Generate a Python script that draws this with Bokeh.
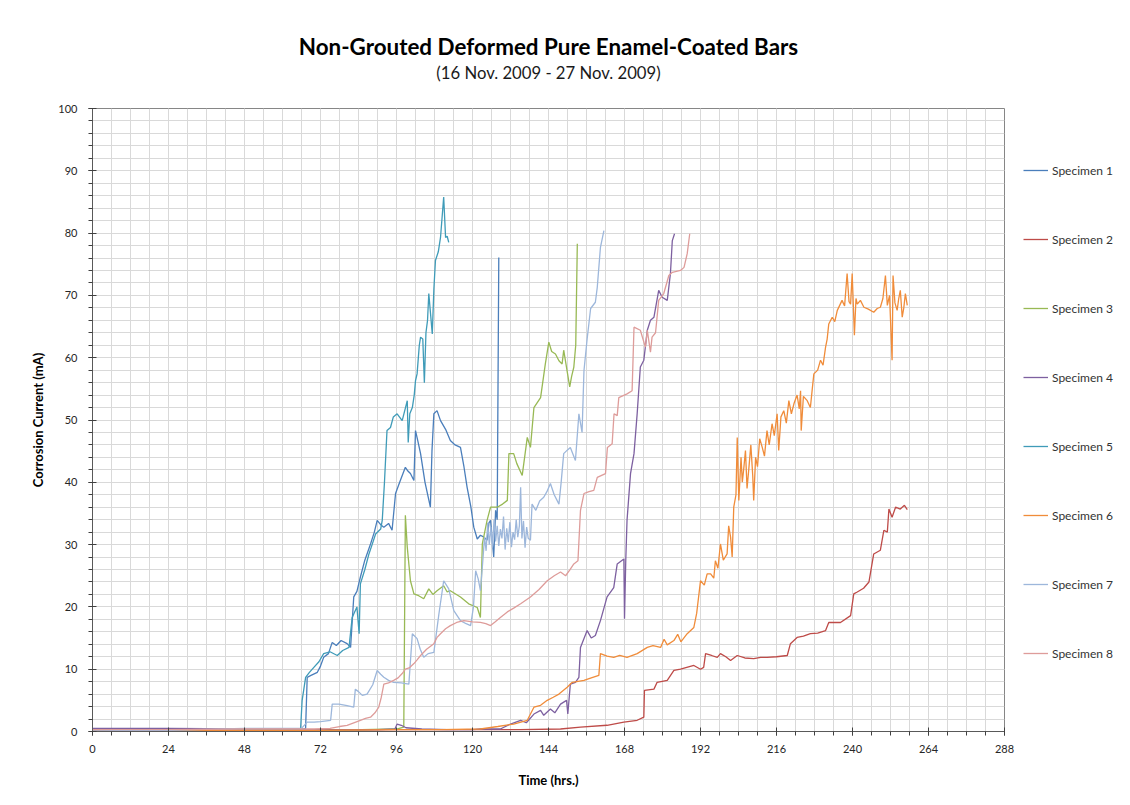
from bokeh.plotting import figure
from bokeh.models import Legend, LegendItem, SingleIntervalTicker, Title, Range1d
from bokeh.embed import file_html
from bokeh.resources import INLINE

FONT = "Lato"

# ---- data: (hours, corrosion current mA) ----
specimen_1 = [(0,0.2),(12,0.2),(24,0.3),(36,0.3),(48,0.3),(60,0.3),(66.5,0.4),(67.3,0.5),(67.8,8.7),(69,9.0),(71,9.5),(72,10.5),(73,11.9),(74.5,12.5),(75.7,14.3),(77,13.8),(78.5,14.6),(80.4,14.1),(81.5,13.5),(82.5,21.6),(83.5,22.5),(84.6,24.8),(86,27.5),(87.8,30.1),(89,32),(89.9,33.9),(91,33.2),(92,32.8),(93.5,33.4),(94.6,32.3),(95.7,38.2),(97,40),(98.8,42.4),(99.6,41.8),(100.4,41.4),(101.5,40.3),(102,48.3),(102.8,46.5),(103.6,44.6),(105,40),(106.7,36),(107.2,45),(107.8,51),(108.8,51.5),(109.9,49.9),(111.5,48.5),(113,46.7),(114.5,46),(116.2,45.6),(117.3,42.5),(118.3,39.2),(119.5,36),(120.4,32.8),(121.5,30.9),(122.5,31.5),(123.6,31.2),(124.6,30.7),(125.2,33.5),(125.7,33.9),(126.2,31),(126.7,28),(127.3,35.5),(127.8,34),(128.3,76.1)]

specimen_2 = [(0,0.1),(24,0.1),(48,0.2),(72,0.2),(96,0.3),(120,0.3),(135,0.3),(147.8,0.4),(154.1,0.7),(162.5,1.0),(167.8,1.5),(172,1.8),(174.1,2.3),(174.3,6.6),(177.3,6.8),(178.3,7.9),(181.5,8.2),(183.6,9.8),(185.7,10),(189.9,10.6),(192,10),(193,10.3),(193.6,12.5),(195.5,12.2),(197.3,11.9),(198.3,12.5),(200,12),(201.5,11.4),(203.6,12.2),(206,11.8),(208.8,11.7),(211,11.9),(213,11.9),(216,12),(219.4,12.2),(220.4,14.1),(222.5,15.1),(224.5,15.3),(226.7,15.7),(229,15.8),(231.5,16.2),(232.5,17.5),(236.2,17.5),(239.4,18.6),(240.4,22.1),(241.5,22.4),(243.5,23),(245.2,24),(246.7,28.5),(248.8,29.1),(249.9,32.3),(251,32),(251.5,35.7),(252.5,34.4),(253.6,36),(255.1,35.7),(256.4,36.3),(257.3,35.6)]

specimen_3 = [(0,0.1),(24,0.1),(48,0.2),(72,0.2),(85,0.3),(96,0.4),(98.3,0.7),(98.8,34.7),(99.4,29.6),(100.4,24.2),(101.5,22.1),(103,21.8),(104.6,21.3),(106.2,22.9),(107.5,22),(108.8,22.6),(110.9,23.4),(112,22.4),(113,22.6),(116.2,21.6),(118.8,20.5),(121.5,19.9),(122.5,18.3),(123.1,30.1),(124.6,33.9),(125.7,36),(127.8,36),(129.5,36.5),(131,37.1),(131.5,44.6),(133,44.6),(134,43),(135.7,41.1),(137.3,47.2),(138.3,45.6),(139.4,52),(141.5,53.6),(143,59),(144.1,62.5),(145,61),(146.2,60.6),(147.3,59.5),(148.3,59),(148.8,61.2),(150,57.5),(150.7,55.3),(151.3,57),(152,58.5),(152.6,62),(153.1,78.3)]

specimen_4 = [(0,0.5),(24,0.5),(48,0.4),(60,0.3),(72,0.3),(90,0.3),(95.5,0.4),(96.2,1.2),(97.5,1.0),(99,0.6),(104,0.4),(112,0.3),(120,0.3),(122.5,0.4),(128.8,0.4),(132,1.2),(135.2,1.8),(137,1.4),(139.4,2.8),(141.5,3.4),(142.5,2.6),(144.6,3.6),(146,3.0),(147.8,4.4),(149.7,5),(150.1,2.8),(150.9,7.6),(152.5,7.9),(153.6,8.7),(154.1,13.5),(156.2,16.2),(157.5,15),(158.8,15.4),(160.4,17.8),(162.5,21.6),(164.6,23.1),(165.7,26.9),(167.8,27.7),(168,18.1),(168.4,27.5),(168.8,33.9),(169.9,41.4),(171,44.6),(172,51),(173,58.5),(174.1,59.6),(175.2,64.4),(176.2,66),(177.3,66.5),(178.8,70.8),(179.9,69.7),(181.5,69.2),(182.5,73.5),(183.1,78.8),(183.8,79.9)]

specimen_5 = [(0,0.2),(24,0.2),(48,0.3),(60,0.3),(65.7,0.3),(66.2,5),(67.3,8.7),(68.5,9.5),(69.9,10.3),(71.5,11.2),(73,12.5),(75,12.8),(77.3,12.2),(79,13),(81,13.5),(82,18.3),(83.5,20),(84.2,15.7),(84.6,23.7),(86,26),(87.3,28.5),(88.3,30),(89.4,31.7),(91,32.5),(91.5,33.9),(92.2,40),(93,48.3),(94.1,48.8),(95,50.5),(96.2,51),(97.8,49.9),(98.6,51.5),(99.4,53.1),(99.7,46.4),(100.2,51),(101,52),(101.6,54),(102,56.3),(102.5,57.4),(103.2,62),(103.6,63.3),(104.3,63),(104.8,56),(105.3,64),(105.8,66),(106.2,70.3),(107.3,63.8),(107.8,71),(108.3,75.6),(109.2,77),(109.9,79.3),(110.9,85.8),(111.5,79.3),(112,79.5),(112.5,78.5)]

specimen_6 = [(0,0.1),(24,0.1),(48,0.2),(72,0.2),(96,0.3),(110,0.3),(122.5,0.4),(128,0.8),(133,1.2),(137.3,1.8),(139.4,3.9),(141.5,4.2),(143.6,5),(145.5,5.5),(147.3,6),(149.9,7.1),(151.5,7.9),(155.2,8.2),(157.5,8.6),(159.9,9),(160.4,12.5),(162.5,12.1),(164.6,11.9),(166.5,12.2),(168.8,11.9),(172,12.5),(175.2,13.5),(177,13.8),(179.4,13.5),(180.5,14.8),(181.5,13.9),(183.6,14.6),(184.8,15.6),(185.8,14.4),(187.8,15.7),(189.9,16.7),(190.8,19),(192,24.2),(193.2,23.5),(194.1,25.3),(195.2,25.3),(196.2,24.6),(196.7,27.4),(197.5,26.2),(198.3,30.1),(199.2,27.5),(200.4,28.5),(200.9,33),(201.5,31.2),(202,28),(202.5,36),(203.2,38),(203.6,47.2),(204.1,37.1),(204.8,44),(205.2,40),(205.7,42.4),(206.2,45.1),(206.7,39),(207.3,42.4),(207.9,46),(208.5,41),(208.8,37.1),(209.4,44),(210,42.5),(210.7,47),(211.5,45.6),(212.2,44.2),(213,48.3),(213.7,46),(214.6,49.4),(215.3,47.5),(216.2,51),(216.7,45.1),(217.4,50.5),(218.3,51.5),(219.1,49.5),(219.9,53.1),(220.7,51),(221.5,52.6),(222.5,54),(223.2,51.8),(223.6,54.7),(223.8,48.3),(224.5,53.8),(225.7,53.1),(226.7,52),(227.3,55),(227.8,57.4),(229,58),(229.9,59.6),(230.7,58.8),(231.5,61.7),(232,63),(232.5,65.4),(233.6,66.5),(234.4,65.8),(235.2,67.6),(236.7,69.2),(237.5,68.3),(238.3,73.5),(238.9,69),(239.4,68.6),(239.9,73.5),(240.6,63.6),(241.1,69.5),(241.5,68.6),(242.5,69.2),(243.6,68.1),(245,67.8),(246.7,67.3),(247.8,67.9),(248.8,68.1),(249.6,69.5),(250.4,73.2),(251,68.4),(251.7,70),(252.5,59.6),(252.8,73.2),(253.4,68.8),(254.1,67.6),(254.6,69.5),(255.1,70.8),(255.7,66.5),(256.2,68),(256.7,70.3),(257.3,68.4)]

specimen_7 = [(0,0.1),(24,0.2),(48,0.5),(60,0.5),(66,0.5),(67.8,1.5),(70,1.5),(72,1.6),(75.2,1.8),(75.7,4.4),(77.8,4.4),(80,4.2),(82.5,3.9),(83,6.8),(84,6.4),(85.2,5.8),(86.7,6),(88.5,7.5),(89.9,9.8),(91,9.2),(92,8.7),(93.5,8.2),(95.1,7.9),(97.5,7.8),(99.9,7.6),(101,15.7),(102.5,14.9),(103.5,13.2),(104.6,11.9),(106,12.5),(107.8,12.7),(109.4,18.9),(110.9,24.2),(112.5,22.9),(114.1,19.4),(116.2,17.8),(118,17.3),(119.4,17),(120.3,20),(121,25.8),(121.8,24.5),(122.5,22.6),(123.2,27),(123.8,31.2),(124.3,29),(124.8,33.5),(125.3,30),(125.8,32.8),(126.3,29.5),(126.8,34),(127.3,30.5),(127.8,33),(128.3,29.8),(128.8,32.5),(129.3,31),(129.8,34.5),(130.3,29.2),(130.8,32.6),(131.3,30.4),(131.8,33.6),(132.3,29.6),(132.8,32),(133.3,30.8),(133.8,34),(134.3,31.2),(134.8,33),(135.2,39.2),(135.6,31),(136.1,33.8),(136.6,29.5),(137.1,32.8),(137.6,31),(138.3,30.7),(138.8,36.5),(140,35.5),(141.2,37),(142.5,37.6),(143.5,38.5),(144.6,39.8),(145.8,38),(147.3,36.5),(148,40),(148.8,44.6),(150,45.2),(150.9,45.6),(152.5,43.5),(153.6,51),(154.6,48),(155.2,57.9),(156.2,63),(157.3,67.9),(158.8,68.9),(159.4,71.3),(160.4,77.7),(161.5,80.4)]

specimen_8 = [(0,0.3),(24,0.3),(48,0.4),(60,0.4),(70,0.4),(75,0.5),(78,0.8),(80.4,1.0),(82.5,1.4),(84.6,1.8),(86.2,2.1),(87.8,2.3),(89.2,3.0),(90.4,3.9),(91.2,5.5),(92,7.6),(93.5,7.8),(95.1,8.2),(96.5,8.6),(97.8,9.3),(98.8,10),(100,10.2),(101.5,10.9),(102.5,11.5),(103.6,12.2),(105.5,13.2),(107.8,14.1),(108.8,15.1),(109.9,15.7),(111.5,16.5),(113,17),(115,17.5),(117.3,17.8),(120,17.6),(122.5,17.5),(124.2,17.3),(125.7,17),(127.2,17.6),(128.8,18.3),(131,19.2),(133,19.8),(135.2,20.5),(138.3,21.6),(141,22.8),(143.6,24.2),(145.8,25),(147.8,25.6),(149.4,25),(150.8,26),(152,26.9),(153.3,27.4),(154.1,35.5),(155.2,38.2),(156.8,38.5),(158.3,38.7),(159.4,40.8),(162,41.4),(162.6,45.6),(164.1,46.2),(164.7,51),(165.7,50.7),(166.2,53.6),(168.8,54.2),(170.4,54.7),(171,64.9),(173,64.4),(174.6,61.7),(175.2,64.4),(176.2,60.9),(176.7,63.3),(177.8,64),(178.8,69.2),(180.4,70.3),(182,73.2),(183.1,73.7),(185.7,74),(186.8,74.5),(187.8,76.7),(188.6,79.9)]

series_names = ["Specimen 1", "Specimen 2", "Specimen 3", "Specimen 4",
                "Specimen 5", "Specimen 6", "Specimen 7", "Specimen 8"]
series_data = [specimen_1, specimen_2, specimen_3, specimen_4,
               specimen_5, specimen_6, specimen_7, specimen_8]
series_colors = ["#4A7EBB", "#BE4B48", "#98B954", "#7D60A0",
                 "#3F9BB8", "#F08C3A", "#9DB7DB", "#DE9C9A"]

chart_title = "Non-Grouted Deformed Pure Enamel-Coated Bars"
chart_subtitle = "(16 Nov. 2009 - 27 Nov. 2009)"
x_label = "Time (hrs.)"
y_label = "Corrosion Current (mA)"

p = figure(frame_width=912, frame_height=623,
           x_range=Range1d(0, 288), y_range=Range1d(0, 100),
           output_backend="svg", toolbar_location=None, title=None,
           min_border_left=92, min_border_top=108, min_border_right=118,
           min_border_bottom=66,
           background_fill_color="white", border_fill_color="white")

p.add_layout(Title(text=chart_subtitle, align="center", text_font=FONT,
                   text_font_size="16.7px", text_font_style="normal",
                   text_color="#1a1a1a", standoff=52), "above")
p.add_layout(Title(text=chart_title, align="center", text_font=FONT,
                   text_font_size="22.4px", text_font_style="bold",
                   text_color="#000000", standoff=-50), "above")

items = []
for name, data, color in zip(series_names, series_data, series_colors):
    xs = [d[0] for d in data]
    ys = [d[1] for d in data]
    r = p.line(xs, ys, line_color=color, line_width=1.3)
    items.append(LegendItem(label=name, renderers=[r]))

legend = Legend(items=items, location=(19, 68), orientation="vertical",
                glyph_width=25, glyph_height=20, label_height=20, spacing=49,
                padding=0, margin=0, label_standoff=4,
                label_text_font=FONT, label_text_font_size="12px",
                label_text_color="#333333", border_line_color=None,
                background_fill_alpha=0)
p.add_layout(legend, "right")

p.xaxis.ticker = SingleIntervalTicker(interval=24, num_minor_ticks=4)
p.yaxis.ticker = SingleIntervalTicker(interval=10, num_minor_ticks=5)
for g in (p.xgrid, p.ygrid):
    g.grid_line_color = "#d9d9d9"
    g.minor_grid_line_color = "#d9d9d9"
    g.grid_line_width = 1
    g.minor_grid_line_width = 1

for ax in (p.xaxis, p.yaxis):
    ax.axis_line_color = "#595959"
    ax.major_tick_line_color = "#404040"
    ax.minor_tick_line_color = "#404040"
    ax.major_tick_in = 4
    ax.major_tick_out = 4
    ax.minor_tick_in = 0
    ax.minor_tick_out = 4
    ax.major_label_text_font = FONT
    ax.major_label_text_font_size = "11px"
    ax.major_label_text_color = "#262626"
    ax.axis_label_text_font = FONT
    ax.axis_label_text_font_size = "13px"
    ax.axis_label_text_font_style = "bold"
    ax.axis_label_text_color = "#000000"

p.xaxis.axis_label = x_label
p.yaxis.axis_label = y_label
p.xaxis.major_label_standoff = 9
p.yaxis.major_label_standoff = 11
p.xaxis.axis_label_standoff = 16
p.yaxis.axis_label_standoff = 9

p.outline_line_color = "#868686"
p.outline_line_width = 1

open("out.html", "w").write(file_html(p, INLINE))
